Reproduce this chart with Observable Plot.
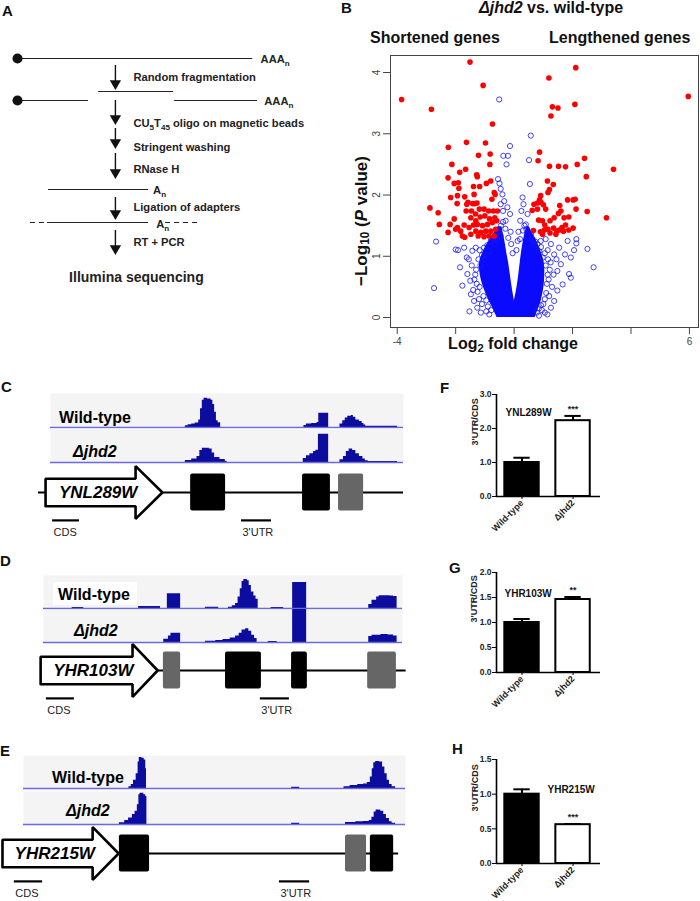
<!DOCTYPE html>
<html><head><meta charset="utf-8">
<script src="https://cdn.jsdelivr.net/npm/d3@7"></script>
<script src="https://cdn.jsdelivr.net/npm/@observablehq/plot@0.6"></script>
<style>
body{margin:0;background:#fff;}
#root{position:relative;width:700px;height:901px;overflow:hidden;font-family:"Liberation Sans",Arial,Helvetica,sans-serif;color:#111;background:#fff;}
sub{font-size:70%;vertical-align:-0.25em;line-height:0;}
</style></head><body><div id="root"></div><script>
// ---------------- DATA ----------------
// Panel A (schematic)
const stepLabels = ["Random fragmentation", "CU_{5}T_{45} oligo on magnetic beads", "Stringent washing", "RNase H", "Ligation of adapters", "RT + PCR"];
const finalStep = "Illumina sequencing";
const polyA = "AAA_{n}", shortA = "A_{n}";

// Panel B volcano: [log2 fold change, -log10 P]
const redLeft = [[-3.85,3.56],[-2.83,3.40],[-1.51,4.17],[-1.06,3.79],[-0.74,3.16],[-2.25,2.78],[-1.63,2.86],[-0.98,2.85],[-1.22,2.65],[-0.82,2.67],[-2.13,2.50],[-1.66,2.42],[-0.83,2.50],[-1.86,2.37],[-2.26,2.28],[-1.28,2.33],[-1.26,2.30],[-2.05,2.19],[-1.91,2.20],[-0.80,2.23],[-0.95,2.19],[-1.39,2.14],[-1.89,2.11],[-1.18,2.14],[-1.37,2.01],[-2.17,1.96],[-1.94,1.99],[-1.69,1.97],[-1.58,1.88],[-0.68,2.04],[-0.65,2.01],[-0.76,1.93],[-1.95,1.86],[-1.62,1.85],[-1.42,1.86],[-1.34,1.86],[-1.27,1.87],[-2.88,1.79],[-2.60,1.71],[-2.56,1.52],[-2.19,1.52],[-2.05,1.61],[-1.64,1.74],[-1.46,1.74],[-1.32,1.69],[-1.19,1.77],[-1.03,1.77],[-0.87,1.74],[-0.71,1.74],[-0.57,1.74],[-1.48,1.63],[-1.31,1.58],[-1.16,1.64],[-1.00,1.66],[-0.84,1.61],[-0.66,1.63],[-1.94,1.47],[-1.71,1.51],[-1.54,1.47],[-1.39,1.51],[-1.26,1.52],[-1.08,1.50],[-0.91,1.52],[-0.74,1.55],[-0.59,1.58],[-2.26,1.39],[-2.00,1.44],[-1.83,1.41],[-1.69,1.31],[-1.48,1.36],[-1.31,1.41],[-1.14,1.39],[-0.97,1.41],[-0.80,1.41],[-0.63,1.44],[-1.77,1.33],[-0.86,1.33],[-0.68,1.33],[-1.03,1.32],[-1.23,1.33]];
const redRight = [[5.96,3.61],[2.11,4.08],[1.19,3.91],[1.31,3.44],[1.50,3.42],[1.26,3.29],[2.08,3.48],[0.87,2.70],[0.82,2.56],[1.21,2.47],[1.52,2.47],[1.76,2.46],[2.41,2.60],[2.16,2.50],[3.40,2.42],[2.47,2.30],[1.14,2.23],[1.34,2.17],[1.21,2.09],[1.16,2.04],[0.91,1.99],[0.87,1.92],[0.80,1.87],[0.68,1.85],[0.92,1.88],[1.00,1.84],[1.08,1.77],[0.62,1.75],[0.80,1.77],[1.56,1.83],[1.83,1.92],[2.02,1.92],[2.09,1.93],[2.12,1.77],[2.50,1.73],[3.16,1.63],[1.60,1.74],[1.52,1.70],[1.37,1.63],[1.23,1.58],[0.97,1.58],[0.84,1.59],[1.05,1.51],[1.87,1.64],[1.71,1.63],[1.76,1.51],[0.66,1.42],[0.90,1.40],[1.04,1.43],[1.16,1.44],[1.23,1.38],[1.35,1.46],[1.46,1.41],[1.54,1.43],[1.69,1.41],[1.87,1.43],[2.02,1.46],[1.64,1.47],[1.43,1.36],[0.97,1.36]];
const bluePts = [[-0.51,3.56],[0.57,2.97],[-0.14,2.80],[-0.37,2.64],[-0.21,2.64],[-0.26,2.50],[0.51,2.57],[0.54,2.18],[-0.55,2.26],[-0.50,2.19],[-0.46,2.10],[-0.40,2.01],[-0.34,1.90],[-0.23,1.80],[-0.14,1.69],[-0.46,1.85],[-0.38,1.74],[-0.29,1.58],[0.29,1.96],[0.32,1.85],[0.25,1.74],[0.21,1.58],[0.46,1.69],[0.40,1.52],[-2.67,1.24],[-2.74,0.48],[-1.53,0.10],[-2.00,1.11],[-1.92,1.10],[-1.85,0.82],[-1.77,0.52],[-1.62,0.98],[-1.60,0.71],[-1.48,0.38],[-1.43,1.09],[-1.71,1.14],[-1.31,1.14],[-1.37,0.27],[-1.26,0.16],[-1.14,0.08],[2.51,1.12],[2.72,0.82],[2.13,1.28],[2.13,1.21],[2.05,1.10],[1.94,0.65],[1.88,0.71],[1.74,1.03],[1.60,0.87],[1.66,0.54],[1.48,0.44],[1.37,0.27],[1.26,0.16],[1.37,1.03],[1.26,1.20],[1.54,1.14],[1.14,0.05],[1.05,0.08],[1.83,1.25],[1.94,0.98],[1.48,0.76],[-0.80,1.25],[-0.57,1.28],[-0.46,1.33],[0.46,1.33],[0.63,1.28],[0.91,1.25],[1.08,1.28],[0.80,1.20],[-1.03,1.14],[-1.50,0.60],[-1.45,0.85],[-1.40,0.45],[-1.20,0.30],[-1.55,0.95],[-1.18,1.10],[1.30,0.50],[1.35,0.70],[1.25,0.90],[1.45,0.95],[1.20,0.35],[1.15,1.10],[-0.95,0.10],[-0.85,0.05],[0.95,0.12],[0.85,0.03],[-1.36,0.62],[-1.30,0.78],[-1.22,0.95],[-1.10,1.02],[-0.92,1.18],[-0.70,1.30],[-0.55,1.40],[-1.25,0.42],[-1.10,0.22],[-0.90,0.18],[1.18,0.62],[1.22,0.78],[1.16,0.95],[1.05,1.05],[0.92,1.15],[0.72,1.24],[0.58,1.36],[1.10,0.40],[1.00,0.22],[0.85,0.15],[-0.30,1.45],[-0.20,1.30],[0.30,1.42],[0.20,1.28],[-1.28,0.55],[-1.33,0.70],[-1.18,0.50],[-1.05,0.35],[-1.15,0.85],[-1.00,0.95],[-0.85,1.08],[-0.65,1.20],[-0.95,0.28],[-0.78,0.12],[1.12,0.55],[1.15,0.70],[1.08,0.85],[0.98,0.98],[0.86,1.08],[0.70,1.18],[1.05,0.30],[0.92,0.20],[0.78,0.08],[-0.45,1.50],[-0.38,1.56],[0.35,1.50],[0.42,1.44],[-0.10,1.20],[-0.05,1.05],[0.08,1.10],[0.12,1.25],[-0.12,1.40],[0.15,1.40]];
// dense core of the non-significant cloud (bounds)
const coreY  = [0, 0.1, 0.2, 0.3, 0.5, 0.7, 0.9, 1.05, 1.2, 1.35, 1.48];
const coreL1 = [-0.58,-0.68,-0.78,-0.88,-1.05,-1.16,-1.18,-1.08,-0.92,-0.72,-0.55];
const coreL2 = [0.12,0.08,0.04,0.0,-0.07,-0.13,-0.19,-0.25,-0.30,-0.36,-0.42];
const coreR1 = [-0.12,-0.08,-0.04,0.02,0.10,0.16,0.21,0.25,0.30,0.36,0.43];
const coreR2 = [0.72,0.80,0.88,0.94,1.02,1.05,1.03,0.94,0.82,0.66,0.52];
const xTicks = [-4,-2,0,2,4,6];
const xTickLabels = ["-4","","","","","6"];
const yTicks = [0,1,2,3,4];

// Panels C-E: coverage profiles [position, coverage %]
const covC_wt  = [[38.2,5],[39,8],[40,10],[41,13],[42,22],[42.5,55],[43,80],[43.5,86],[44.5,84],[45.5,80],[46,68],[46.5,45],[47,20],[47.5,14],[48.2,0],[71.8,6],[72.5,10],[74,12],[75.5,15],[76,42],[78.8,0],[82,10],[82.8,20],[83.5,28],[84.2,33],[85.2,35],[85.8,30],[86.5,22],[87.5,18],[88.3,12],[88.8,7],[89.3,4],[98.3,0]];
const covC_mut = [[38.2,6],[40,10],[41.5,18],[42.3,35],[43,42],[45,40],[45.8,28],[46.5,15],[48,9],[49.5,4],[50,0],[71.6,12],[72.5,20],[73.5,26],[74.5,32],[75.2,36],[75.9,83],[78.8,0],[82,8],[83,18],[83.8,32],[84.6,40],[85.6,35],[86.5,26],[87.5,18],[88.5,10],[89.2,5],[90,3],[98.3,0]];
const covD_wt  = [[8.0,3],[11.2,0],[26.5,6],[32.6,0],[34.5,45],[38.2,0],[45.1,4],[48.8,0],[51.5,4],[52.6,8],[53.5,15],[54.2,35],[54.8,60],[55.3,82],[55.8,88],[56.8,84],[57.3,70],[57.9,50],[58.6,38],[59.2,28],[59.8,0],[63.4,3],[66.9,0],[69.4,79],[73.3,0],[90.6,12],[91.5,25],[92.8,35],[93.5,39],[96.5,38],[97.5,36],[98.5,0]];
const covD_mut = [[33.5,10],[34.8,20],[35.5,28],[38.2,0],[45.1,4],[48,6],[50,9],[52,14],[53.5,20],[54.5,28],[55.3,38],[56.3,42],[57.2,34],[58,22],[58.8,12],[59.5,0],[62.6,3],[65.1,0],[69.4,100],[73.3,0],[90.6,18],[91.5,22],[94,24],[96,23],[97.5,20],[98.5,0]];
const covE_wt  = [[27.6,5],[28.2,12],[28.8,25],[29.5,45],[30.0,80],[30.3,94],[31.0,92],[31.6,86],[32.0,60],[32.2,0],[70.2,4],[72.3,0],[83.9,5],[85.5,9],[87.5,12],[89,14],[90,18],[90.8,35],[91.3,60],[91.7,78],[92.2,82],[93.2,80],[94,65],[94.6,45],[95.2,25],[95.8,12],[96.5,5],[97.4,0]];
const covE_mut = [[25.1,5],[26.5,12],[27.5,20],[28.5,30],[29.2,40],[29.8,60],[30.2,90],[30.5,95],[31.5,90],[32.0,85],[32.3,0],[70.2,4],[72.3,0],[84.3,6],[87,8],[89,9],[90.5,12],[91.2,22],[91.8,38],[92.3,44],[93.5,40],[94.3,30],[95,18],[95.8,8],[96.5,4],[97.4,0]];
// gene models: line extent, arrow [start, head start, tip], features [start, end, kind]
const genes = ["YNL289W", "YHR103W", "YHR215W"];
const geneLine = [[-3.4,100],[-0.8,101],[-5.5,98.2]];
const geneArrow = [[-1.4,24.1,31.7],[-0.8,24.8,31.8],[-5.5,18.1,24.9]];
const geneBoxes = [
  [[39.7,49.6,"b"],[71.4,79.3,"b"],[81.6,88.7,"g"]],
  [[33.4,38.2,"g"],[50.7,60.7,"b"],[69.1,73.5,"b"],[90.3,98.3,"g"]],
  [[25.1,33.0,"b"],[84.3,89.8,"g"],[90.8,96.9,"b"]]
];
const scaleLabels = ["CDS", "3'UTR"];
const scaleBars = [[[0.6,8.2],[54.1,62.6]],[[0.8,8.6],[60.4,68.5]],[[-2.4,5.0],[67.0,74.9]]];
const trackNames = ["Wild-type", "Δjhd2"];

// Panels F-H: 3'UTR/CDS ratios
const strains = ["Wild-type", "Δjhd2"];
const ratioMeans = [[1.0, 2.23],[1.0, 1.46],[1.0, 0.56]];
const ratioErrs  = [[0.14, 0.14],[0.07, 0.05],[0.07, 0.01]];
const sigLabels  = ["***", "**", "***"];
const yMaxes = [3.0, 2.0, 1.5];
const yTickSets = [[0,1,2,3],[0,0.5,1,1.5,2],[0,0.5,1,1.5]];

// ---------------- HELPERS ----------------
const FONT = '"Liberation Sans", Arial, Helvetica, sans-serif';
const root = document.getElementById("root");
function put(node, left, top) {
  node.style.position = "absolute"; node.style.left = left + "px"; node.style.top = top + "px";
  root.appendChild(node); return node;
}
function html(str, left, top, css) {
  const d = document.createElement("div");
  d.innerHTML = str;
  d.style.cssText = "position:absolute;white-space:nowrap;line-height:1;font-weight:bold;" + (css || "");
  d.style.left = left + "px"; d.style.top = top + "px";
  root.appendChild(d); return d;
}
function subify(svg, shift) {
  const ns = "http://www.w3.org/2000/svg";
  svg.querySelectorAll("text").forEach(t => {
    const s = t.textContent;
    if (!s.includes("_{")) return;
    t.textContent = "";
    let shifted = false;
    const add = (txt, sub) => {
      if (!txt) return;
      const ts = document.createElementNS(ns, "tspan");
      ts.textContent = txt;
      if (sub && !shifted) { ts.setAttribute("dy", shift); shifted = true; }
      else if (!sub && shifted) { ts.setAttribute("dy", -shift); shifted = false; }
      if (sub) ts.setAttribute("font-size", "72%");
      t.appendChild(ts);
    };
    const re = /_\{([^}]*)\}/g; let last = 0, m;
    while ((m = re.exec(s))) { add(s.slice(last, m.index), false); add(m[1], true); last = re.lastIndex; }
    add(s.slice(last), false);
  });
}
const baseStyle = {fontFamily: FONT, background: "transparent", overflow: "visible", color: "#111"};

// ---------------- PANEL A ----------------
(function () {
  const arrowTop = [65, 100, 128, 153, 197, 230];
  const arrowEnd = [87, 122, 146, 176, 217, 252];
  const labelY = [77, 123, 147, 169, 207, 242];
  const steps = stepLabels.map((label, i) => ({label, y1: arrowTop[i], y2: arrowEnd[i], ly: labelY[i]}));
  const segs = [
    {a: 0, b: 98, y: 58}, {a: 33.8, b: 65, y: 91}, {a: 0, b: 29.6, y: 100}, {a: 65.5, b: 100, y: 100},
    {a: 12.9, b: 54.6, y: 189}, {a: 12.5, b: 54.6, y: 222}
  ];
  const dashSegs = [{a: 5.4, b: 11.7, y: 222}, {a: 61.7, b: 75.5, y: 222}];
  const caps = [{y: 58}, {y: 100}];
  const tails = [{t: polyA, x: 101.3, y: 59}, {t: polyA, x: 102.8, y: 101}, {t: shortA, x: 56.5, y: 190}, {t: shortA, x: 57.8, y: 224}];
  const arrowX = 40.8;
  const p = Plot.plot({
    width: 310, height: 300, margin: 0,
    style: {...baseStyle, fontWeight: "bold"},
    x: {domain: [0, 100], range: [17, 257], axis: null},
    y: {domain: [0, 300], range: [0, 300], axis: null},
    marks: [
      Plot.ruleY(segs, {y: "y", x1: "a", x2: "b", stroke: "#222", strokeWidth: 1.2}),
      Plot.ruleY(dashSegs, {y: "y", x1: "a", x2: "b", stroke: "#222", strokeWidth: 1.2, strokeDasharray: "5,4"}),
      Plot.dot(caps, {x: 0, y: "y", r: 5, fill: "#111", stroke: "none"}),
      Plot.ruleX(steps, {x: arrowX, y1: "y1", y2: d => d.y2 - 6, stroke: "#111", strokeWidth: 1.4}),
      Plot.dot(steps, {x: arrowX, y: d => d.y2 - 4, symbol: "triangle", rotate: 180, r: 4.2, fill: "#111", stroke: "none"}),
      Plot.text(steps, {x: 48.3, y: "ly", text: "label", textAnchor: "start", fontSize: 11.2, fill: "#222"}),
      Plot.text(tails, {x: "x", y: "y", text: "t", textAnchor: "start", fontSize: 11.2, fill: "#222"}),
      Plot.text([finalStep], {x: 21.5, y: 277, textAnchor: "start", fontSize: 14, fill: "#222"})
    ]
  });
  subify(p, 3);
  put(p, 0, 0);
})();

// ---------------- PANEL B ----------------
(function () {
  const core = (x1s, x2s) => coreY.map((y, i) => ({y, x1: x1s[i], x2: x2s[i]}));
  const p = Plot.plot({
    width: 360, height: 350, marginLeft: 50, marginRight: 2, marginTop: 55, marginBottom: 23,
    style: baseStyle,
    x: {domain: [-4.23, 6.31]},
    y: {domain: [-0.163, 4.278]},
    marks: [
      Plot.areaX(core(coreL1, coreL2), {y: "y", x1: "x1", x2: "x2", fill: "#0a0aff", curve: "catmull-rom"}),
      Plot.areaX(core(coreR1, coreR2), {y: "y", x1: "x1", x2: "x2", fill: "#0a0aff", curve: "catmull-rom"}),
      Plot.dot(bluePts, {x: d => d[0], y: d => d[1], r: 2.6, stroke: "#1515ff", strokeWidth: 0.8, fill: "none"}),
      Plot.dot(redLeft.concat(redRight), {x: d => d[0], y: d => d[1], r: 2.8, fill: "#ff0000", stroke: "none"}),
      Plot.frame({stroke: "#444", strokeWidth: 1}),
      Plot.axisX({ticks: xTicks, tickFormat: d => xTickLabels[xTicks.indexOf(d)], tickSize: 7, tickPadding: 3, fontSize: 10, fill: "#444", stroke: "#444", label: null}),
      Plot.axisY({ticks: yTicks, tickFormat: d => String(d), tickRotate: -90, tickSize: 7, tickPadding: 4, fontSize: 10, fill: "#444", stroke: "#444", label: null})
    ]
  });
  put(p, 340, 0);
})();

// ---------------- PANELS C, D, E ----------------
const panelLayout = [
  {left: 50, right: 403, wtTop: 393, mutTop: 428, trackH: 34, cy: 492, cov: [covC_wt, covC_mut],
   lab: [[59, 418], [73, 452]], labBg: false},
  {left: 43, right: 402, wtTop: 575, mutTop: 609, trackH: 33, cy: 670, cov: [covD_wt, covD_mut],
   lab: [[58, 595], [74, 631]], labBg: true},
  {left: 23, right: 405, wtTop: 755, mutTop: 791, trackH: 33, cy: 853, cov: [covE_wt, covE_mut],
   lab: [[52, 778], [66, 811]], labBg: false}
];
panelLayout.forEach((L, k) => {
  const W = 440;
  [0, 1].forEach(t => {
    const p = Plot.plot({
      width: W, height: L.trackH, marginLeft: L.left, marginRight: W - L.right, marginTop: 0, marginBottom: 0,
      style: baseStyle,
      x: {domain: [0, 100], axis: null}, y: {domain: [0, 100], axis: null},
      marks: [
        Plot.frame({fill: "#f4f4f4", stroke: "none"}),
        Plot.areaY(L.cov[t], {x: d => d[0], y: d => d[1], fill: "#0c0c9e", curve: "step-after"}),
        Plot.ruleY([0], {stroke: "#6a6ae0", strokeWidth: 1.3})
      ]
    });
    put(p, 0, t === 0 ? L.wtTop : L.mutTop);
  });
  const [a, h, tip] = geneArrow[k];
  const bh = 0.46, hh = 0.88, boxH = 0.62;
  const arrowPts = [[a,-bh],[h,-bh],[h,-hh],[tip,0],[h,hh],[h,bh],[a,bh],[a,-bh]];
  const lineSegs = [{x1: geneLine[k][0], x2: a}, {x1: tip, x2: geneLine[k][1]}];
  const boxes = geneBoxes[k].map(([s, e, kind]) => ({s, e, kind}));
  const bars = scaleBars[k].map(([s, e], i) => ({s, e, label: scaleLabels[i]}));
  const g = Plot.plot({
    width: W, height: 80, marginLeft: L.left, marginRight: W - L.right, marginTop: 2, marginBottom: 18,
    style: baseStyle,
    x: {domain: [0, 100], axis: null}, y: {domain: [-1, 1], axis: null},
    marks: [
      Plot.ruleY(lineSegs, {y: 0, x1: "x1", x2: "x2", stroke: "#000", strokeWidth: 2}),
      Plot.line(arrowPts, {x: d => d[0], y: d => d[1], fill: "#fff", stroke: "#000", strokeWidth: 2.6, strokeLinejoin: "miter"}),
      Plot.text([genes[k]], {x: a + (tip - a) * 0.45, y: 0, fontSize: 17, fontWeight: "bold", fontStyle: "italic", fill: "#000"}),
      Plot.rect(boxes, {x1: "s", x2: "e", y1: -boxH, y2: boxH, fill: d => d.kind === "b" ? "#000000" : "#666666", rx: 2}),
      Plot.ruleY(bars, {y: -0.93, x1: "s", x2: "e", stroke: "#000", strokeWidth: 2.2}),
      Plot.text(bars, {x: "s", y: -0.93, dy: 12, dx: 1, text: "label", textAnchor: "start", fontSize: 11, fill: "#222"})
    ]
  });
  put(g, 0, L.cy - 32);
  const fs = 16;
  if (L.labBg) {
    const bg = document.createElement("div");
    bg.style.cssText = "background:#fff;width:84px;height:23px;";
    put(bg, L.lab[0][0] - 5, L.lab[0][1] - 13);
  }
  html(trackNames[0], L.lab[0][0], L.lab[0][1] - 0.49 * fs, `font-size:${fs}px;color:#000;`);
  html(`<i>${trackNames[1]}</i>`, L.lab[1][0], L.lab[1][1] - 0.49 * fs, `font-size:${fs}px;color:#000;`);
});

// ---------------- PANELS F, G, H ----------------
const barLayout = [
  {top: 390, height: 160, mt: 4, mb: 54, gdx: 9, gdy: 18, ldx: -21},
  {top: 560, height: 160, mt: 12, mb: 48, gdx: 8, gdy: 21, ldx: -22},
  {top: 730, height: 171, mt: 29, mb: 38, gdx: 51, gdy: 30, ldx: -21}
];
barLayout.forEach((B, k) => {
  const rows = strains.map((s, i) => ({i, s, v: ratioMeans[k][i], e: ratioErrs[k][i]}));
  const xmin = -0.5, hw = 0.337;
  const p = Plot.plot({
    width: 160, height: B.height, marginLeft: 56, marginRight: 0, marginTop: B.mt, marginBottom: B.mb,
    style: {...baseStyle, fontWeight: "bold"},
    x: {domain: [xmin, 1.538]},
    y: {domain: [0, yMaxes[k]]},
    marks: [
      Plot.ruleX(rows, {x: "i", y1: "v", y2: d => d.v + d.e, stroke: "#000", strokeWidth: 2}),
      Plot.ruleY(rows, {y: d => d.v + d.e, x1: d => d.i - 0.16, x2: d => d.i + 0.16, stroke: "#000", strokeWidth: 2}),
      Plot.rect(rows.filter(d => d.i === 0), {x1: d => d.i - hw, x2: d => d.i + hw, y1: 0, y2: "v", fill: "#000", stroke: "#000", strokeWidth: 2}),
      Plot.rect(rows.filter(d => d.i === 1), {x1: d => d.i - hw, x2: d => d.i + hw, y1: 0, y2: "v", fill: "#fff", stroke: "#000", strokeWidth: 2}),
      Plot.text(rows.filter(d => d.i === 1), {x: "i", y: d => d.v + d.e, text: () => sigLabels[k], dy: -7, fontSize: 9, fill: "#222"}),
      Plot.ruleY([0], {stroke: "#000", strokeWidth: 1.6}),
      Plot.ruleX([xmin], {stroke: "#000", strokeWidth: 1.6}),
      Plot.axisY({ticks: yTickSets[k], tickFormat: d3.format(".1f"), tickSize: 4, tickPadding: 1, fontSize: 8.5, label: null, stroke: "#000", fill: "#222"}),
      Plot.axisX({ticks: [0, 1], tickFormat: i => strains[i], tickRotate: -45, tickSize: 3, tickPadding: 2, fontSize: 9, label: null, stroke: "#000", fill: "#222"}),
      Plot.text([genes[k]], {frameAnchor: "top-left", dx: B.gdx, dy: B.gdy, lineAnchor: "middle", textAnchor: "start", fontSize: 10, fill: "#111"}),
      Plot.text(["3'UTR/CDS"], {frameAnchor: "left", rotate: -90, dx: B.ldx, fontSize: 9, fill: "#222"})
    ]
  });
  put(p, 440, B.top);
});

// ---------------- TEXT LABELS ----------------
const letterCss = "font-size:15px;color:#111;";
html("A", 2, 3, letterCss);
html("B", 341, 0, letterCss);
html("C", 1, 379, letterCss);
html("D", 0, 553, letterCss);
html("E", 0, 743, letterCss);
html("F", 440, 380, letterCss);
html("G", 449, 560, letterCss);
html("H", 452, 741, letterCss);
html("<i>Δjhd2</i> vs. wild-type", 551, 0, "font-size:16px;transform:translateX(-50%);color:#111;");
html("Shortened genes", 370, 30, "font-size:16px;color:#111;");
html("Lengthened genes", 549, 30, "font-size:16px;color:#111;");
html("−Log<sub>10</sub> (<i>P</i> value)", 361, 221, "font-size:17px;transform:translate(-50%,-50%) rotate(-90deg);color:#111;");
html("Log<sub>2</sub> fold change", 513, 336, "font-size:16px;transform:translateX(-50%);color:#111;");
</script></body></html>
